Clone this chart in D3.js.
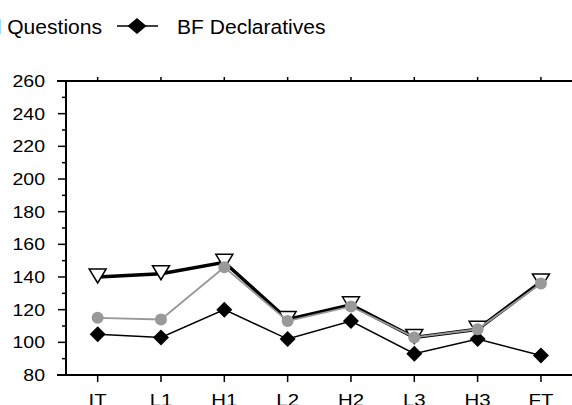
<!DOCTYPE html>
<html>
<head>
<meta charset="utf-8">
<script src="https://cdn.jsdelivr.net/npm/d3@7"></script>
<style>
  body { margin: 0; background: #fff; }
  svg { display: block; font-family: "Liberation Sans", Arial, sans-serif; }
</style>
</head>
<body>
<div id="chart"></div>
<script>
const categories = ['IT', 'L1', 'H1', 'L2', 'H2', 'L3', 'H3', 'FT'];
const finalQuestions = [140, 142, 149, 114, 123, 103, 108, 137];
const otherQuestions = [115, 114, 146, 113, 122, 103, 108, 136];
const declaratives = [105, 103, 120, 102, 113, 93, 102, 92];
const yTicks = [80, 100, 120, 140, 160, 180, 200, 220, 240, 260];
const yMinor = [90, 110, 130, 150, 170, 190, 210, 230, 250];

let width = 572,
    height = 405,
    plotLeft = 66,
    plotTop = 81,
    plotBottom = 375;

let x = d3.scalePoint()
    .domain(categories)
    .range([plotLeft, 572.6])
    .padding(0.5);

let y = d3.scaleLinear()
    .domain([80, 260])
    .range([plotBottom, plotTop]);

let svg = d3.select('#chart')
    .append('svg')
        .attr('width', width)
        .attr('height', height);

// frame lines
svg.append('line')
    .attr('x1', 57).attr('x2', width)
    .attr('y1', plotTop).attr('y2', plotTop)
    .style('stroke', '#000').style('stroke-width', 2);
svg.append('line')
    .attr('x1', 57).attr('x2', width)
    .attr('y1', plotBottom).attr('y2', plotBottom)
    .style('stroke', '#000').style('stroke-width', 2);
svg.append('line')
    .attr('x1', plotLeft).attr('x2', plotLeft)
    .attr('y1', plotTop).attr('y2', plotBottom)
    .style('stroke', '#000').style('stroke-width', 2);

// y ticks
svg.selectAll('.ymajor').data(yTicks)
    .enter().append('line')
        .attr('x1', 58).attr('x2', plotLeft)
        .attr('y1', d => y(d)).attr('y2', d => y(d))
        .style('stroke', '#000').style('stroke-width', 1.5);
svg.selectAll('.yminor').data(yMinor)
    .enter().append('line')
        .attr('x1', 62).attr('x2', plotLeft)
        .attr('y1', d => y(d)).attr('y2', d => y(d))
        .style('stroke', '#000').style('stroke-width', 1.5);
// glyphs in the original are drawn wide, so stretch horizontally
svg.selectAll('.ylabel').data(yTicks)
    .enter().append('text')
        .attr('transform', d => 'translate(45,' + (y(d) + 6) + ') scale(1.16,1)')
        .attr('text-anchor', 'end')
        .attr('font-size', 16.8)
        .text(d => d);

// x ticks, bottom and top
svg.selectAll('.xtick').data(categories)
    .enter().append('line')
        .attr('x1', d => x(d)).attr('x2', d => x(d))
        .attr('y1', plotBottom).attr('y2', plotBottom + 7)
        .style('stroke', '#000').style('stroke-width', 1.5);
svg.selectAll('.xtop').data(categories)
    .enter().append('line')
        .attr('x1', d => x(d)).attr('x2', d => x(d))
        .attr('y1', plotTop).attr('y2', plotTop - 4)
        .style('stroke', '#000').style('stroke-width', 1.5);
svg.selectAll('.xlabel').data(categories)
    .enter().append('text')
        .attr('transform', d => 'translate(' + x(d) + ',405.5) scale(1.2,1)')
        .attr('text-anchor', 'middle')
        .attr('font-size', 17)
        .text(d => d);

let line = d3.line()
    .x((d, i) => x(categories[i]))
    .y(d => y(d));

let tri = 'M-8.5,-6 L8.5,-6 L0,8 Z';
let dia = 'M0,-8 L8,0 L0,8 L-8,0 Z';

// triangle series
svg.append('path')
    .datum(finalQuestions)
    .attr('d', line)
    .style('fill', 'none')
    .style('stroke', '#000')
    .style('stroke-width', 3.5);
svg.selectAll('.tri').data(finalQuestions)
    .enter().append('path')
        .attr('d', tri)
        .attr('transform', (d, i) => 'translate(' + x(categories[i]) + ',' + (y(d) - 2) + ')')
        .style('fill', '#fff')
        .style('stroke', '#000')
        .style('stroke-width', 1.5);

// diamond series
svg.append('path')
    .datum(declaratives)
    .attr('d', line)
    .style('fill', 'none')
    .style('stroke', '#000')
    .style('stroke-width', 1.5);
svg.selectAll('.dia').data(declaratives)
    .enter().append('path')
        .attr('d', dia)
        .attr('transform', (d, i) => 'translate(' + x(categories[i]) + ',' + y(d) + ')')
        .style('fill', '#000');

// grey circle series
svg.append('path')
    .datum(otherQuestions)
    .attr('d', line)
    .style('fill', 'none')
    .style('stroke', '#999')
    .style('stroke-width', 1.8);
svg.selectAll('.dot').data(otherQuestions)
    .enter().append('circle')
        .attr('cx', (d, i) => x(categories[i]))
        .attr('cy', d => y(d))
        .attr('r', 6)
        .style('fill', '#999');

// legend
svg.append('text')
    .attr('transform', 'translate(102,34) scale(1.08,1)')
    .attr('text-anchor', 'end')
    .attr('font-size', 19.5)
    .text('BF Final Questions');
svg.append('line')
    .attr('x1', 117).attr('x2', 158)
    .attr('y1', 26).attr('y2', 26)
    .style('stroke', '#000').style('stroke-width', 1.5);
svg.append('path')
    .attr('d', 'M0,-8 L9.5,0 L0,8 L-9.5,0 Z')
    .attr('transform', 'translate(137,26)')
    .style('fill', '#000');
svg.append('text')
    .attr('transform', 'translate(177,34) scale(1.08,1)')
    .attr('font-size', 19.5)
    .text('BF Declaratives');
</script>
</body>
</html>
